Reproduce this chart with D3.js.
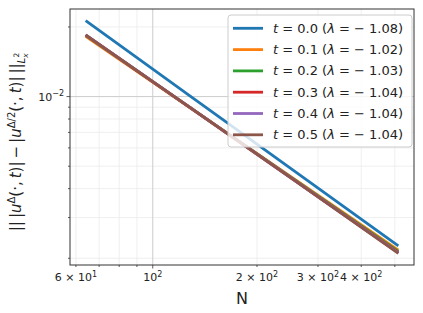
<!DOCTYPE html>
<html>
<head>
<meta charset="utf-8">
<script src="https://cdn.jsdelivr.net/npm/d3@7/dist/d3.min.js"></script>
<style>
  body { margin: 0; background: #fff; }
  svg { display: block; font-family: "DejaVu Sans", sans-serif; }
</style>
</head>
<body>
<svg width="423" height="313"></svg>
<script>
// grid sizes and the errors
const N = [64, 128, 256, 512];
const times = ["0.0", "0.1", "0.2", "0.3", "0.4", "0.5"];
const rates = ["1.08", "1.02", "1.03", "1.04", "1.04", "1.04"];
const err_t00 = [0.0213, 0.01007, 0.00477, 0.00226];
const err_t01 = [0.0182, 0.00896, 0.00441, 0.00217];
const err_t02 = [0.0184, 0.00899, 0.00439, 0.00214];
const err_t03 = [0.01845, 0.00897, 0.00436, 0.00212];
const err_t04 = [0.01848, 0.00898, 0.00436, 0.00211];
const err_t05 = [0.0185, 0.00898, 0.00435, 0.00210];
const allErr = [err_t00, err_t01, err_t02, err_t03, err_t04, err_t05];
const colors = ["#1f77b4", "#ff7f0e", "#2ca02c", "#d62728", "#9467bd", "#8c564b"];

// ticks
const xMajor = [100];
const xMinor = [60, 70, 80, 90, 200, 300, 400, 500];
const xLabels = [[60, "6 \u00d7 10", "1"], [100, "10", "2"], [200, "2 \u00d7 10", "2"], [300, "3 \u00d7 10", "2"], [400, "4 \u00d7 10", "2"]];
const yMajor = [0.01];
const yMinor = [0.002, 0.003, 0.004, 0.005, 0.006, 0.007, 0.008, 0.009, 0.02];
const yLabels = [[0.01, "10", "\u22122"]];

const W = 423, H = 313;
const m = { left: 70, top: 9, right: 9, bottom: 48 };
const svg = d3.select("svg");

// matplotlib-like 5% margins in log space
function logPad(lo, hi) {
  const a = Math.log10(lo), b = Math.log10(hi), p = (b - a) * 0.05;
  return [Math.pow(10, a - p), Math.pow(10, b + p)];
}
const x = d3.scaleLog().domain(logPad(d3.min(N), d3.max(N))).range([m.left, W - m.right]);
const y = d3.scaleLog().domain(logPad(d3.min(allErr.flat()), d3.max(allErr.flat()))).range([H - m.bottom, m.top]);

// grid
const g = svg.append("g");
g.selectAll(".gxm").data(xMinor).enter().append("line")
  .attr("x1", d => x(d)).attr("x2", d => x(d)).attr("y1", m.top).attr("y2", H - m.bottom)
  .attr("stroke", "#ebebeb").attr("stroke-width", 0.8);
g.selectAll(".gym").data(yMinor).enter().append("line")
  .attr("y1", d => y(d)).attr("y2", d => y(d)).attr("x1", m.left).attr("x2", W - m.right)
  .attr("stroke", "#ebebeb").attr("stroke-width", 0.8);
g.selectAll(".gxM").data(xMajor).enter().append("line")
  .attr("x1", d => x(d)).attr("x2", d => x(d)).attr("y1", m.top).attr("y2", H - m.bottom)
  .attr("stroke", "#cccccc").attr("stroke-width", 1);
g.selectAll(".gyM").data(yMajor).enter().append("line")
  .attr("y1", d => y(d)).attr("y2", d => y(d)).attr("x1", m.left).attr("x2", W - m.right)
  .attr("stroke", "#cccccc").attr("stroke-width", 1);

// lines
const line = d3.line().x((d, i) => x(N[i])).y(d => y(d));
svg.append("g").selectAll("path").data(allErr).enter().append("path")
  .attr("d", d => line(d)).attr("fill", "none")
  .attr("stroke", (d, i) => colors[i]).attr("stroke-width", 2.8);

// frame
svg.append("rect").attr("x", m.left).attr("y", m.top)
  .attr("width", W - m.left - m.right).attr("height", H - m.top - m.bottom)
  .attr("fill", "none").attr("stroke", "#333").attr("stroke-width", 1);

// ticks
const tk = svg.append("g").attr("stroke", "#333").attr("stroke-width", 0.8);
xMajor.forEach(v => tk.append("line").attr("x1", x(v)).attr("x2", x(v)).attr("y1", H - m.bottom).attr("y2", H - m.bottom + 3.5));
xMinor.forEach(v => tk.append("line").attr("x1", x(v)).attr("x2", x(v)).attr("y1", H - m.bottom).attr("y2", H - m.bottom + 2));
yMajor.forEach(v => tk.append("line").attr("y1", y(v)).attr("y2", y(v)).attr("x1", m.left).attr("x2", m.left - 3.5));
yMinor.forEach(v => tk.append("line").attr("y1", y(v)).attr("y2", y(v)).attr("x1", m.left).attr("x2", m.left - 2));

function powLabel(sel, base, exp) {
  sel.append("tspan").text(base);
  sel.append("tspan").attr("dy", -4.5).attr("font-size", 8).text(exp);
}
xLabels.forEach(([v, b, e]) => {
  const t = svg.append("text").attr("x", x(v)).attr("y", 281).attr("text-anchor", "middle")
    .attr("font-size", 11).attr("fill", "#222");
  powLabel(t, b, e);
});
yLabels.forEach(([v, b, e]) => {
  const t = svg.append("text").attr("x", m.left - 6).attr("y", y(v) + 4).attr("text-anchor", "end")
    .attr("font-size", 11).attr("fill", "#222");
  powLabel(t, b, e);
});

// axis labels
svg.append("text").attr("x", (m.left + W - m.right) / 2).attr("y", 304)
  .attr("text-anchor", "middle").attr("font-size", 16).attr("fill", "#222").text("N");

const yl = svg.append("text").attr("text-anchor", "middle").attr("font-size", 15).attr("fill", "#222")
  .attr("transform", `translate(21,142) rotate(-90)`);
const runs = [
  { t: "||\u2009|" }, { t: "u", i: 1 }, { t: "\u0394", s: -6, f: 10 }, { t: "(\u00b7,\u2009", s: 6 }, { t: "t", i: 1 },
  { t: ")|\u2009\u2212\u2009|" }, { t: "u", i: 1 }, { t: "\u0394/2", s: -6, f: 10 }, { t: "(\u00b7,\u2009", s: 6 }, { t: "t", i: 1 },
  { t: ")|\u2009||" }, { t: "L", s: 4, f: 10.5, i: 1 }, { t: "2", s: -6, f: 7.5 }, { t: "x", s: 9, f: 7.5, i: 1, dx: -5 }
];
runs.forEach(r => {
  const ts = yl.append("tspan").text(r.t);
  if (r.s) ts.attr("dy", r.s);
  if (r.f) ts.attr("font-size", r.f);
  if (r.i) ts.attr("font-style", "italic");
  if (r.dx) ts.attr("dx", r.dx);
});

// legend
const lg = svg.append("g");
lg.append("rect").attr("x", 228).attr("y", 15).attr("width", 184).attr("height", 132)
  .attr("rx", 3).attr("fill", "#fff").attr("fill-opacity", 0.8).attr("stroke", "#ccc");
times.forEach((t, i) => {
  const yy = 28.3 + i * 21.3;
  lg.append("line").attr("x1", 233).attr("x2", 263).attr("y1", yy).attr("y2", yy)
    .attr("stroke", colors[i]).attr("stroke-width", 2.8);
  const tx = lg.append("text").attr("x", 273).attr("y", yy + 4.5).attr("font-size", 13).attr("fill", "#222");
  tx.append("tspan").attr("font-style", "italic").text("t");
  tx.append("tspan").text(" = " + t + " (");
  tx.append("tspan").attr("font-style", "italic").text("\u03bb");
  tx.append("tspan").text(" = \u2212 " + rates[i] + ")");
});
</script>
</body>
</html>
